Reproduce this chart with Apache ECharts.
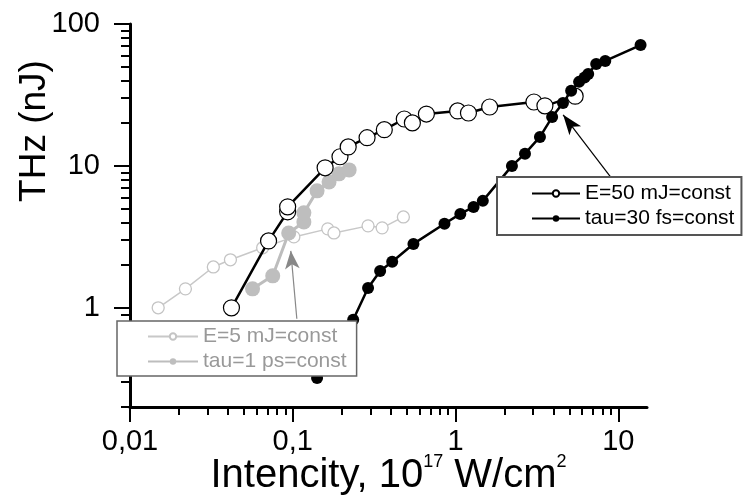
<!DOCTYPE html>
<html>
<head>
<meta charset="utf-8">
<script src="https://cdn.jsdelivr.net/npm/echarts@6/dist/echarts.min.js"></script>
<style>html,body{margin:0;padding:0;background:#fff;}#c{width:750px;height:495px;}</style>
</head>
<body>
<div id="c"></div>
<script>
// ---- data (x: intensity 1e17 W/cm2, y: THz nJ) ----
const serE50 = [[0.042,1.0],[0.071,2.96],[0.093,4.75],[0.093,5.15],[0.158,9.7],[0.195,11.6],[0.219,13.6],[0.286,15.8],[0.365,18.0],[0.484,21.4],[0.543,20.1],[0.662,23.2],[1.03,24.4],[1.20,23.6],[1.62,26.0],[3.03,28.2],[3.54,26.5],[5.43,31.0]];
const serTau30 = [[0.141,0.32],[0.235,0.823],[0.29,1.38],[0.344,1.82],[0.408,2.11],[0.551,2.82],[0.855,3.91],[1.07,4.59],[1.29,5.14],[1.47,5.67],[2.22,10.0],[2.67,12.2],[3.3,16.0],[3.92,22.1],[4.57,27.8],[5.13,33.8],[5.74,39.1],[6.2,42.0],[6.53,44.5],[7.31,52.3],[8.31,54.9],[13.7,71.1]];
const serE5 = [[0.0149,1.0],[0.0219,1.36],[0.0325,1.94],[0.0414,2.18],[0.0653,2.65],[0.1015,3.16],[0.164,3.6],[0.179,3.37],[0.29,3.78],[0.354,3.66],[0.478,4.37]];
const serTau1 = [[0.0566,1.36],[0.0753,1.68],[0.0944,3.37],[0.117,4.03],[0.117,4.67],[0.141,6.67],[0.167,7.71],[0.192,8.79],[0.222,9.37]];
const names = ['E=50 mJ=const','tau=30 fs=const','E=5 mJ=const','tau=1 ps=const'];
const xMajor = [0.01,0.1,1,10];
const xMinor = [0.02,0.03,0.04,0.05,0.06,0.07,0.08,0.09,0.2,0.3,0.4,0.5,0.6,0.7,0.8,0.9,2,3,4,5,6,7,8,9];
const yMajor = [1,10,100];
const yMinor = [0.2,0.3,0.4,0.5,0.6,0.7,0.8,0.9,2,3,4,5,6,7,8,9,20,30,40,50,60,70,80,90];
const arrowBlack = [[9.05,8.23],[4.58,22.9]];
const arrowGray = [[0.1059,0.837],[0.0972,2.52]];

const FONT = "'Liberation Sans', Arial, Helvetica, sans-serif";
const chart = echarts.init(document.getElementById('c'), null, {renderer:'canvas'});
const X_MIN = 0.01, X_MAX = 15, Y_MIN = 0.2, Y_MAX = 100;

const baseX = {type:'log', logBase:10, min:X_MIN, max:X_MAX, gridIndex:0, position:'bottom', splitLine:{show:false}, axisPointer:{show:false}};
const baseY = {type:'log', logBase:10, min:Y_MIN, max:Y_MAX, gridIndex:0, position:'left', splitLine:{show:false}, axisPointer:{show:false}};

chart.setOption({
  animation:false,
  backgroundColor:'#fff',
  textStyle:{fontFamily:FONT},
  grid:{left:130, right:103, top:24, bottom:88, containLabel:false, outerBoundsMode:'none'},
  xAxis:[
    Object.assign({}, baseX, {
      axisLine:{show:true, onZero:false, lineStyle:{color:'#000', width:3}},
      axisTick:{show:true, length:15, customValues:xMajor, lineStyle:{color:'#000', width:2}},
      axisLabel:{show:true, customValues:xMajor, margin:20, fontSize:29, color:'#000', fontFamily:FONT,
        formatter:v=>String(v).replace('.', ',')},
      name:'{a|Intencity, 10}{s|17}{a| W/cm}{s|2}',
      nameLocation:'middle', nameGap:46, nameMoveOverlap:false,
      nameTextStyle:{rich:{
        a:{fontSize:40, color:'#000', fontFamily:FONT, lineHeight:45},
        s:{fontSize:18, color:'#000', fontFamily:FONT, lineHeight:18, verticalAlign:'top'}
      }}
    }),
    Object.assign({}, baseX, {
      axisLine:{show:false, onZero:false},
      axisTick:{show:true, length:8, customValues:xMinor, lineStyle:{color:'#000', width:2}},
      axisLabel:{show:false}
    })
  ],
  yAxis:[
    Object.assign({}, baseY, {
      axisLine:{show:true, onZero:false, lineStyle:{color:'#000', width:3}},
      axisTick:{show:true, length:16, customValues:yMajor, lineStyle:{color:'#000', width:2}},
      axisLabel:{show:true, customValues:yMajor, margin:30, fontSize:29, color:'#000', fontFamily:FONT,
        formatter:v=>String(v)}
    }),
    Object.assign({}, baseY, {
      axisLine:{show:false, onZero:false},
      axisTick:{show:true, length:9, customValues:yMinor, lineStyle:{color:'#000', width:2}},
      axisLabel:{show:false}
    })
  ],
  legend:[
    {data:[names[0],names[1]], orient:'vertical', left:497, top:177, padding:[6,7,6,34],
     itemWidth:48, itemHeight:8, itemGap:4, selectedMode:false,
     textStyle:{fontSize:21, color:'#000', fontFamily:FONT},
     borderColor:'#555', borderWidth:2, backgroundColor:'#fff', borderRadius:0, z:10},
    {data:[names[2],names[3]], orient:'vertical', left:117, top:321, padding:[5,10,4,30],
     itemWidth:50, itemHeight:8, itemGap:4, selectedMode:false,
     textStyle:{fontSize:21, color:'#999', fontFamily:FONT},
     borderColor:'#666', borderWidth:1.5, backgroundColor:'#fff', borderRadius:0, z:10}
  ],
  graphic:[
    {type:'text', x:35, y:131, rotation:Math.PI/2, z:10,
     style:{text:'THz (nJ)', fontSize:37, fontFamily:FONT, fill:'#000', textAlign:'center', textVerticalAlign:'middle'}}
  ],
  series:[
    {name:names[2], type:'line', data:serE5, xAxisIndex:0, yAxisIndex:0, z:2,
     symbol:'circle', symbolSize:12, showAllSymbol:true,
     lineStyle:{color:'#c8c8c8', width:1.5},
     itemStyle:{color:'#fff', borderColor:'#c4c4c4', borderWidth:1.3},
     markLine:{silent:true, symbol:['none','arrow'], symbolSize:[11,18], label:{show:false},
       lineStyle:{color:'#888', width:1.2, type:'solid'},
       data:[[{coord:arrowGray[0]},{coord:arrowGray[1]}]]}},
    {name:names[3], type:'line', data:serTau1, xAxisIndex:0, yAxisIndex:0, z:3,
     symbol:'circle', symbolSize:15, showAllSymbol:true,
     lineStyle:{color:'#bdbdbd', width:3},
     itemStyle:{color:'#bebebe', borderColor:'#bebebe', borderWidth:0}},
    {name:names[0], type:'line', data:serE50, xAxisIndex:0, yAxisIndex:0, z:4,
     symbol:'circle', symbolSize:16, showAllSymbol:true,
     lineStyle:{color:'#000', width:2.5},
     itemStyle:{color:'#fff', borderColor:'#000', borderWidth:1.2}},
    {name:names[1], type:'line', data:serTau30, xAxisIndex:0, yAxisIndex:0, z:5,
     symbol:'circle', symbolSize:12, showAllSymbol:true,
     lineStyle:{color:'#000', width:2.5},
     itemStyle:{color:'#000', borderColor:'#000', borderWidth:0},
     markLine:{silent:true, symbol:['none','arrow'], symbolSize:[11,20], label:{show:false},
       lineStyle:{color:'#000', width:1.2, type:'solid'},
       data:[[{coord:arrowBlack[0]},{coord:arrowBlack[1]}]]}}
  ]
});
</script>
</body>
</html>
